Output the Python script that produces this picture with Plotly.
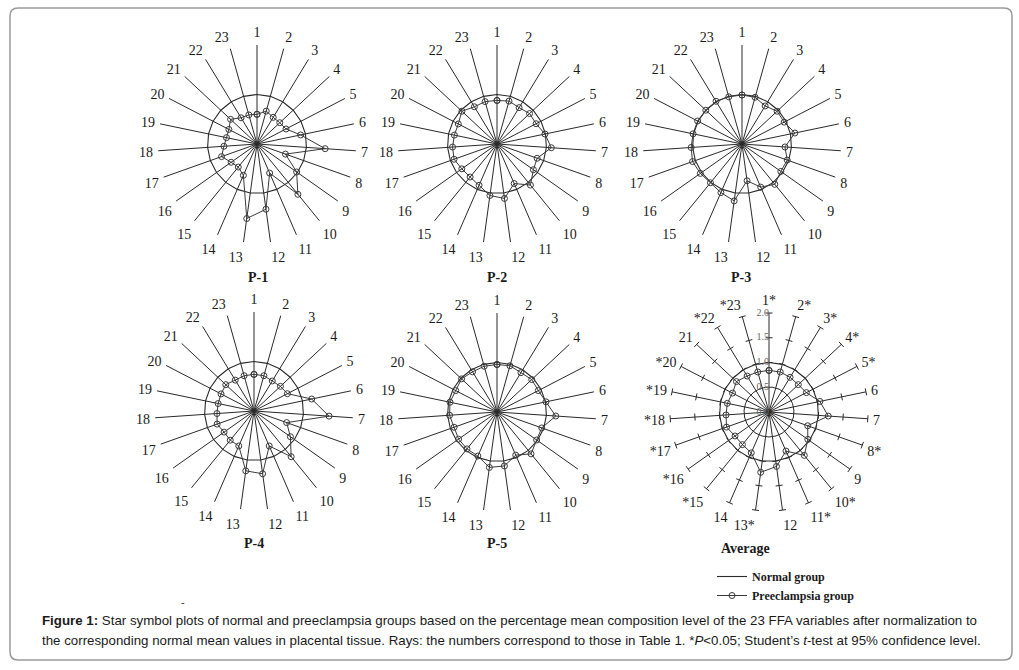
import plotly.graph_objects as go

W, H = 1019, 670

variables = [str(i) for i in range(1, 24)]
normal = [1.0] * 23

p1 = [0.60, 0.69, 0.63, 0.63, 0.66, 0.90, 1.38, 0.61, 0.98, 1.31, 0.64, 1.33, 1.52,
      0.69, 0.60, 0.64, 0.76, 0.67, 0.63, 0.64, 0.73, 0.62, 0.61]
p2 = [0.88, 0.90, 0.86, 0.90, 0.89, 0.99, 1.10, 0.86, 0.90, 1.07, 0.87, 1.11, 1.05,
      0.91, 0.86, 0.87, 0.92, 0.90, 0.88, 0.88, 0.97, 0.88, 0.89]
p3 = [0.99, 0.98, 0.90, 0.97, 0.96, 1.09, 0.87, 0.97, 0.96, 1.05, 0.95, 0.75, 1.16,
      1.07, 1.01, 1.03, 1.06, 1.03, 1.01, 1.01, 1.00, 1.01, 0.99]
p4 = [0.74, 0.74, 0.71, 0.73, 0.76, 1.19, 1.52, 0.70, 0.90, 1.19, 0.77, 1.28, 1.22,
      0.77, 0.76, 0.74, 0.79, 0.75, 0.74, 0.75, 0.78, 0.73, 0.74]
p5 = [0.96, 0.97, 0.93, 0.96, 0.94, 1.01, 1.19, 0.96, 0.98, 1.09, 0.95, 1.10, 1.13,
      0.97, 0.96, 0.95, 0.92, 0.96, 0.97, 0.94, 0.98, 0.95, 0.96]
avg = [0.84, 0.84, 0.82, 0.81, 0.85, 1.05, 1.20, 0.83, 0.96, 1.13, 0.86, 1.11, 1.23,
       0.90, 0.85, 0.84, 0.91, 0.87, 0.86, 0.83, 0.90, 0.85, 0.84]

avg_labels = ["1*", "2*", "3*", "4*", "5*", "6", "7", "8*", "9", "10*", "11*", "12", "13*",
              "14", "*15", "*16", "*17", "*18", "*19", "*20", "21", "*22", "*23"]
avg_ticks = [0.5, 1.0, 1.5, 2.0]
avg_tick_labels = ["0.0", "0.5", "1.0", "1.5", "2.0"]
avg_tick_label_vals = [0.0, 0.5, 1.0, 1.5, 2.0]

panels = [
    ("P-1", p1, 257, 144),
    ("P-2", p2, 497, 144),
    ("P-3", p3, 742, 144),
    ("P-4", p4, 254, 411),
    ("P-5", p5, 497, 412),
    ("Average", avg, 769, 412),
]
title_pos = [(258, 278), (497, 278), (741, 278), (254, 543), (497, 543), (745, 548)]

R = 99  # pixel radius of r = 2.0
LINE = "#2a2a2a"
SERIF = "Liberation Serif"

fig = go.Figure()
layout_polars = {}

for i, (name, vals, cx, cy) in enumerate(panels):
    pid = "polar" if i == 0 else f"polar{i + 1}"
    sub = pid
    dom = dict(x=[(cx - R) / W, (cx + R) / W], y=[1 - (cy + R) / H, 1 - (cy - R) / H])
    is_avg = name == "Average"
    layout_polars[pid] = dict(
        domain=dom,
        bgcolor="rgba(0,0,0,0)",
        radialaxis=dict(visible=False, range=[0, 2]),
        angularaxis=dict(
            type="category",
            categoryorder="array",
            categoryarray=variables,
            direction="clockwise",
            rotation=90,
            showline=False,
            showgrid=True,
            gridcolor=LINE,
            gridwidth=1,
            ticks="outside",
            ticklen=2,
            tickcolor="rgba(0,0,0,0)",
            tickmode="array",
            tickvals=variables,
            ticktext=avg_labels if is_avg else variables,
            tickfont=dict(family=SERIF, size=14, color="#1a1a1a"),
        ),
    )
    theta_closed = variables + variables[:1]
    fig.add_trace(go.Scatterpolar(
        r=normal + normal[:1], theta=theta_closed, mode="lines",
        line=dict(color=LINE, width=1.1), subplot=sub,
        name="<b>Normal group</b>", showlegend=(i == 0), legendrank=1,
    ))
    if is_avg:
        th, rr, ang = [], [], []
        for k, v in enumerate(variables):
            for t in avg_ticks:
                th.append(v)
                rr.append(t)
                ang.append(k * 360.0 / 23)
        fig.add_trace(go.Scatterpolar(
            r=rr, theta=th, mode="markers", subplot=sub, showlegend=False,
            marker=dict(symbol="line-ew", size=5, angle=ang, angleref="up",
                        line=dict(color=LINE, width=1)),
            hoverinfo="skip",
        ))
        fig.add_trace(go.Scatterpolar(
            r=avg_tick_label_vals, theta=[variables[0]] * len(avg_tick_label_vals),
            mode="text", text=avg_tick_labels, textposition="middle left",
            textfont=dict(family=SERIF, size=10, color="#666666"),
            subplot=sub, showlegend=False, hoverinfo="skip",
        ))
    fig.add_trace(go.Scatterpolar(
        r=vals + vals[:1], theta=theta_closed, mode="lines+markers",
        line=dict(color="#3a3a3a", width=1),
        marker=dict(symbol="circle-open", size=6, color="#3a3a3a", line=dict(width=1)),
        subplot=sub, name="<b>Preeclampsia group</b>", showlegend=(i == 0), legendrank=2,
    ))

annotations = []
for (name, vals, cx, cy), (tx, ty) in zip(panels, title_pos):
    annotations.append(dict(
        x=tx / W, y=1 - ty / H, xref="paper", yref="paper", text=f"<b>{name}</b>",
        xanchor="center", yanchor="middle",
        showarrow=False, font=dict(family=SERIF, size=14, color="#1a1a1a"),
    ))

annotations.append(dict(
    x=183 / W, y=1 - 602 / H, xref="paper", yref="paper", text="-",
    xanchor="center", yanchor="middle",
    showarrow=False, font=dict(family="Liberation Sans", size=11, color="#333"),
))

caption_lines = [
    ("<b>Figure 1:</b> Star symbol plots of normal and preeclampsia groups based on the "
     "percentage mean composition level of the 23 FFA variables after normalization to", 620),
    ("the corresponding normal mean values in placental tissue. Rays: the numbers correspond "
     "to those in Table 1. *<i>P</i>&lt;0.05; Student’s <i>t</i>-test at 95% confidence level.", 640),
]
for txt, yy in caption_lines:
    annotations.append(dict(
        x=40 / W, y=1 - yy / H, xref="paper", yref="paper", xanchor="left", yanchor="middle",
        text=txt, showarrow=False, align="left",
        font=dict(family="Liberation Sans", size=13.3, color="#1a1a1a"),
    ))

# rounded frame
x0, x1 = 10 / W, 1012 / W
y0, y1 = 1 - 660 / H, 1 - 8 / H
rx, ry = 8 / W, 8 / H
path = (f"M {x0 + rx},{y1} L {x1 - rx},{y1} Q {x1},{y1} {x1},{y1 - ry} "
        f"L {x1},{y0 + ry} Q {x1},{y0} {x1 - rx},{y0} L {x0 + rx},{y0} "
        f"Q {x0},{y0} {x0},{y0 + ry} L {x0},{y1 - ry} Q {x0},{y1} {x0 + rx},{y1} Z")

fig.update_layout(
    width=W, height=H,
    margin=dict(l=0, r=0, t=0, b=0),
    paper_bgcolor="white",
    plot_bgcolor="white",
    showlegend=True,
    legend=dict(
        x=712 / W, y=1 - 562 / H, xanchor="left", yanchor="top",
        font=dict(family=SERIF, size=12, color="#1a1a1a"),
        bgcolor="rgba(0,0,0,0)", tracegroupgap=0,
    ),
    annotations=annotations,
    shapes=[dict(type="path", path=path, xref="paper", yref="paper",
                 line=dict(color="#9a9a9a", width=1.5))],
    **layout_polars,
)

fig.write_html("out.html", config={"displayModeBar": False},
               post_script="document.body.style.margin='0';")
